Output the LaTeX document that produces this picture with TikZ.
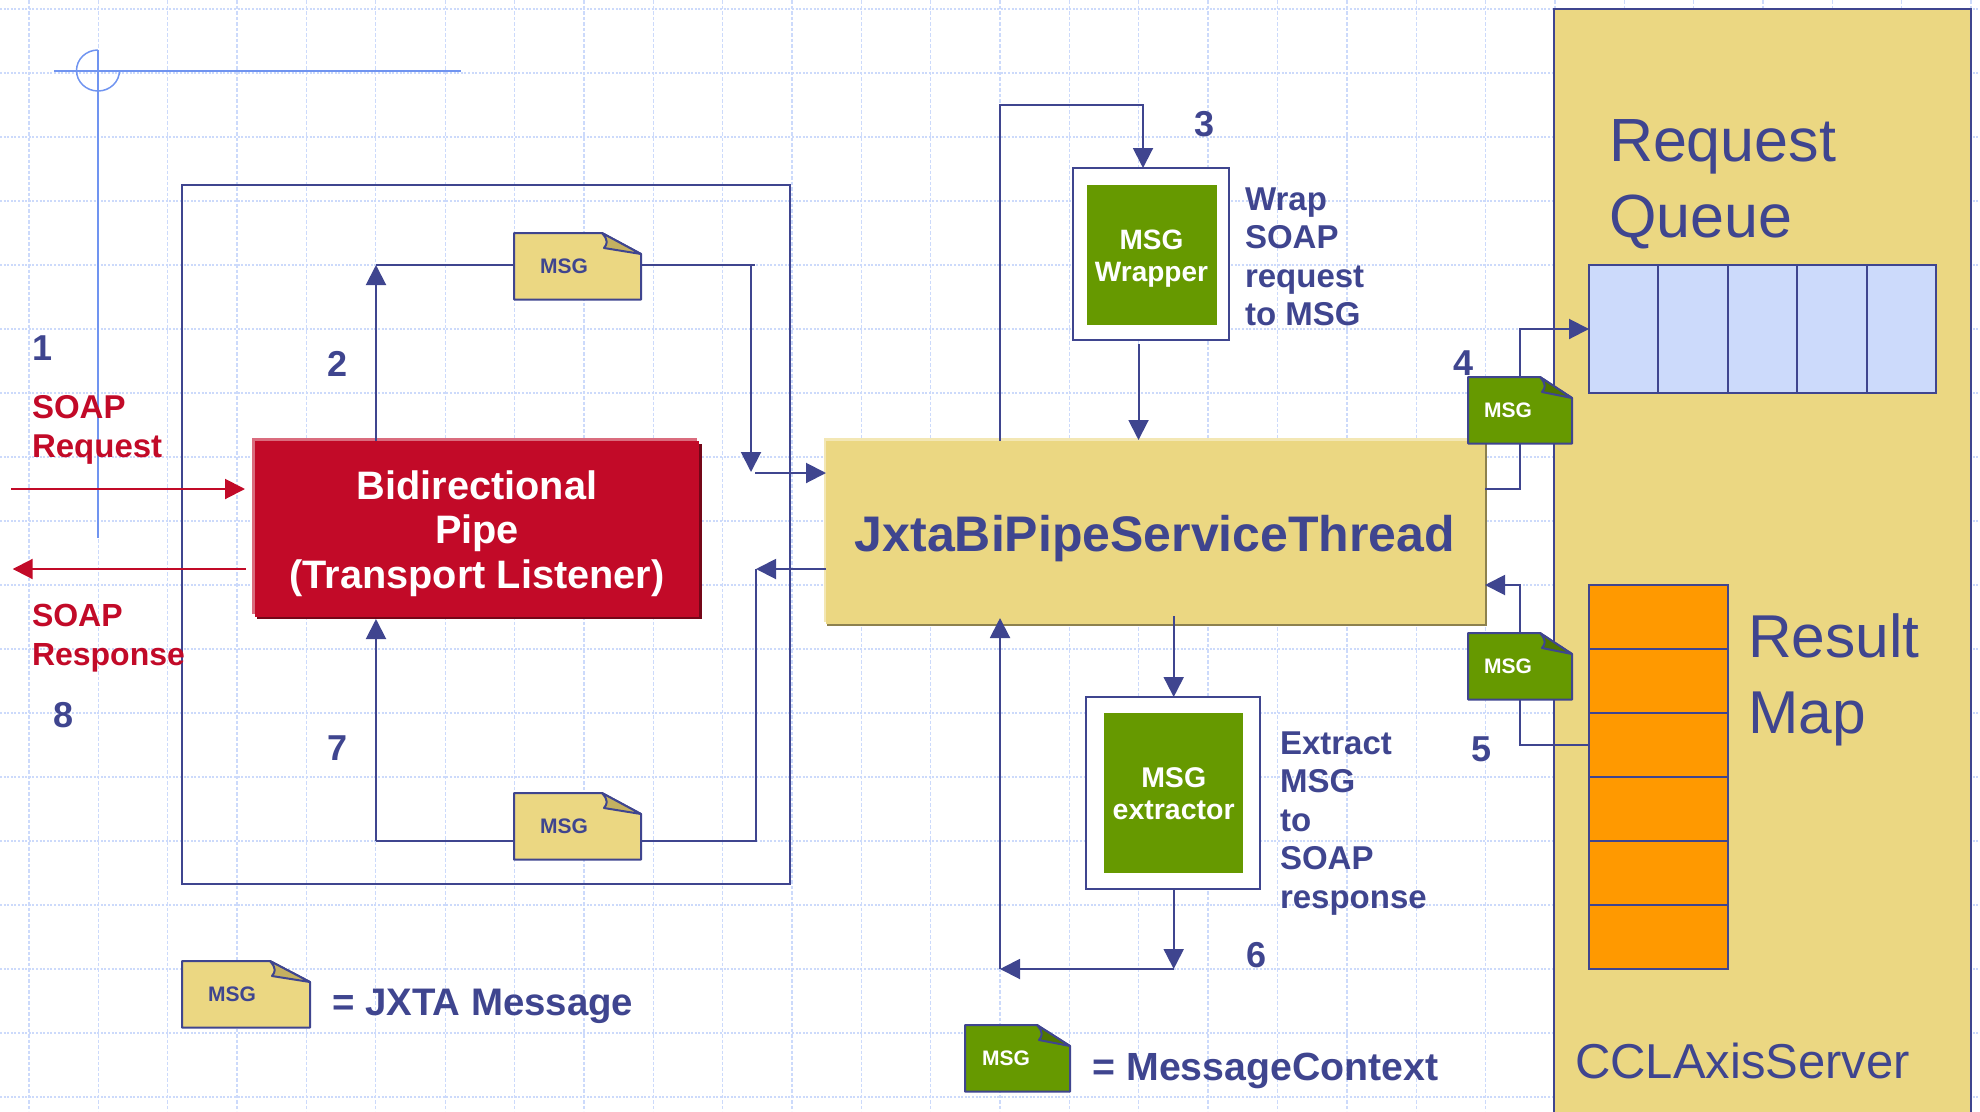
\documentclass[tikz,border=0pt]{standalone}
\usepackage{fontspec}
\setmainfont{Liberation Sans}
\usetikzlibrary{positioning,arrows.meta}
\definecolor{msgblue}{HTML}{3F458F}
\definecolor{gridblue}{HTML}{CCDAFB}
\definecolor{guideblue}{HTML}{7094F0}
\definecolor{noteyellow}{HTML}{EBD782}
\definecolor{foldyellow}{HTML}{C4B060}
\definecolor{textyellow}{HTML}{3F458F}
\definecolor{notegreen}{HTML}{669900}
\definecolor{foldgreen}{HTML}{4F7500}
\definecolor{textgreen}{HTML}{FFFFFF}
\definecolor{soapred}{HTML}{C20A28}
\definecolor{maporange}{HTML}{FF9900}
\tikzset{
  txt/.style 2 args={inner sep=0pt, outer sep=0pt, font=\fontsize{#1}{#2}\selectfont\bfseries},
  plain txt/.style 2 args={inner sep=0pt, outer sep=0pt, font=\fontsize{#1}{#2}\selectfont},
  solid box/.style={rectangle, inner sep=0pt, outer sep=0pt, anchor=north west},
  cell/.style={draw=msgblue, line width=2pt},
  flow/.style={draw=msgblue, line width=2pt},
  note line/.style={draw=msgblue, line width=2pt, line join=round},
  soap flow/.style={draw=soapred, line width=2pt}
}
\begin{document}
\begin{tikzpicture}[x=1pt, y=-1pt, >={Triangle[length=20pt,width=20pt]}]
\useasboundingbox (0,0) rectangle (1980,1111);

% grid
\foreach \y in {0,...,17}
  \draw [gridblue, line width=2pt, dash pattern=on 2pt off 1.6pt] (0,9+64*\y) -- (1980,9+64*\y);
\foreach \x in {0,...,28}
  \draw [gridblue, line width=1.3pt, dash pattern=on 3.5pt off 2pt] (29+69.36*\x,0) -- (29+69.36*\x,1111);

% guides
\draw [guideblue, line width=2.5pt] (54,71) -- (461,71);
\draw [guideblue, line width=1.5pt] (98,50) -- (98,538);
\draw [guideblue, line width=1.5pt] (98,50) arc [start angle=90, end angle=360, x radius=21.5pt, y radius=20.5pt];

% outer frame
\node [solid box, draw=msgblue, line width=2.5pt, minimum width=608pt, minimum height=699pt] (frame) at (182,185) {};

% server
\node [solid box, fill=noteyellow, draw=msgblue, line width=2pt, minimum width=417pt, minimum height=1120pt] (server) at (1554,9) {};

\foreach \i in {1,...,5}
  \node [solid box, cell, fill=gridblue, minimum width=69.4pt, minimum height=128pt] (queue-\i) at (1589+69.4*\i-69.4,265) {};
\foreach \i in {1,...,6}
  \node [solid box, cell, fill=maporange, minimum width=139pt, minimum height=64pt] (map-\i) at (1589,585+64*\i-64) {};

\node [plain txt={61}{76}, anchor=base west, align=left, text=msgblue] (queue-title) at (1609,237.5) {Request\\Queue};
\node [plain txt={60.5}{76}, anchor=base west, align=left, text=msgblue] (map-title) at (1748,733.5) {Result\\Map};
\node [plain txt={49}{49}, anchor=base west, text=msgblue] (server-title) at (1575,1078) {CCLAxisServer};

% pipe
\fill [soapred!60!white] (252,438) rectangle (697,614);
\fill [soapred!60!black] (257,444) rectangle (702,619);
\node [solid box, fill=soapred, minimum width=444pt, minimum height=176pt] (pipe) at (255,441) {};
\node [txt={39.7}{44.5}, anchor=base, align=center, text=white] (pipe-title) at (477,588) {Bidirectional\\Pipe\\(Transport Listener)};

% service thread
\fill [noteyellow!60!white] (824,438) rectangle (1482,622);
\fill [noteyellow!60!black] (827,444) rectangle (1487,626);
\node [solid box, fill=noteyellow, minimum width=659pt, minimum height=183pt] (thread) at (826,441) {};
\node [txt={50}{50}, anchor=base, text=msgblue] (thread-title) at (1155,551) {JxtaBiPipeServiceThread};

% wrapper and extractor
\node [solid box, draw=msgblue, fill=white, line width=2pt, minimum width=156pt, minimum height=172pt] (wrapper-out) at (1073,168) {};
\node [solid box, fill=notegreen, minimum width=130pt, minimum height=140pt] (wrapper) at (1087,185) {};
\node [txt={28}{32}, anchor=base, align=center, text=white] (wrapper-title) at (1151.5,281) {MSG\\Wrapper};
\node [txt={33}{38.3}, anchor=base west, align=left, text=msgblue] (wrapper-note) at (1245,325.5) {Wrap\\SOAP\\request\\to MSG};

\node [solid box, draw=msgblue, fill=white, line width=2pt, minimum width=174pt, minimum height=192pt] (extractor-out) at (1086,697) {};
\node [solid box, fill=notegreen, minimum width=139pt, minimum height=160pt] (extractor) at (1104,713) {};
\node [txt={28.5}{32}, anchor=base, align=center, text=white] (extractor-title) at (1173.7,819) {MSG\\extractor};
\node [txt={33}{38.5}, anchor=base west, align=left, text=msgblue] (extractor-note) at (1280,908) {Extract\\MSG\\to\\SOAP\\response};

% notes
\foreach \n/\xx/\yy/\ww/\ff/\oo/\col in {top/514/233/127/88/50/yellow, bottom/514/793/127/88/50/yellow, legend/182/961/128/88/50/yellow, four/1468/377/104/72/40/green, five/1468/633/104/72/40/green, context/965/1025/105/72/41/green}
{
  \node [solid box, minimum width=\ww pt, minimum height=66.5pt] (msg-\n) at (\xx,\yy) {};
  \draw [note line, fill=note\col] (msg-\n.north west) -- ++(\ff,0) -- ([yshift=-21pt]msg-\n.north east) -- (msg-\n.south east) -- (msg-\n.south west) -- cycle;
  \draw [note line, fill=fold\col] ([xshift=\ff pt]msg-\n.north west) .. controls +(7,8) and +(3,-4) .. ++(2,15) -- ([yshift=-21pt]msg-\n.north east) -- cycle;
  \node [txt={21}{21}, text=text\col] (msg-\n-text) at ([xshift=\oo pt, yshift=-33pt]msg-\n.north west) {MSG};
}

\node [txt={38.4}{38}, anchor=base west, text=msgblue] (legend-jxta) at (332,1015.5) {= JXTA Message};
\node [txt={39.3}{39}, anchor=base west, text=msgblue] (legend-context) at (1092.5,1080.5) {= MessageContext};

% soap
\node [txt={33}{39}, anchor=base west, align=left, text=soapred] (soap-request) at (32,457.5) {SOAP\\Request};
\node [txt={32}{39}, anchor=base west, align=left, text=soapred] (soap-response) at (32,665) {SOAP\\Response};

\foreach \l/\xx/\yy in {1/43/360, 2/338/376, 3/1204/136, 4/1463/375, 5/1481/761, 6/1256/967, 7/338/760, 8/64/727}
  \node [txt={36}{36}, anchor=base, text=msgblue] (num-\l) at (\xx,\yy) {\l};

% links
\coordinate (soap-in) at (11,489);
\coordinate (soap-out) at (12.7,569);
\draw [soap flow, ->, shorten >=10pt] (soap-in) -- (soap-in -| pipe.west);
\draw [soap flow, ->, shorten <=9pt] (soap-out -| pipe.west) -- (soap-out);

\coordinate (turn-2) at (376,265);
\coordinate (in-1) at (751,472);
\coordinate (in-2) at (755,473);
\draw [flow, ->] (turn-2 |- pipe.north) -- (turn-2);
\draw [flow] (turn-2) -- (turn-2 -| msg-top.west);
\draw [flow] (turn-2 -| msg-top.east) -- (turn-2 -| in-2);
\draw [flow, ->] (in-1 |- turn-2) -- (in-1);
\draw [flow, ->] (in-2) -- (in-2 -| thread.west);

\coordinate (out-1) at (756,569);
\coordinate (turn-7) at (376,841);
\coordinate (pipe-in) at (376,619);
\draw [flow, ->] (out-1 -| thread.west) -- (out-1);
\draw [flow] (out-1) |- (turn-7 -| msg-bottom.east);
\draw [flow] (turn-7 -| msg-bottom.west) -- (turn-7);
\draw [flow, ->] (turn-7) -- (pipe-in);

\coordinate (loop-1) at (1000,105);
\coordinate (loop-2) at (1143,105);
\draw [flow, ->] (loop-1 |- thread.north) -- (loop-1) -- (loop-2) -- (loop-2 |- wrapper-out.north);
\coordinate (wrap-out) at (1138.5,344);
\coordinate (wrap-in) at (1138.5,440);
\draw [flow, ->] (wrap-out) -- (wrap-in);

\coordinate (thread-out) at (1173.7,616);
\coordinate (back-1) at (1173.7,969);
\coordinate (back-2) at (1000,969);
\coordinate (thread-in) at (1000,618);
\draw [flow, ->] (thread-out) -- (thread-out |- extractor-out.north);
\draw [flow, ->] (extractor-out.south -| back-1) -- (back-1);
\draw [flow, ->] (back-1) -- (back-2);
\draw [flow, ->] (back-2) -- (thread-in);

\coordinate (up-1) at (1520,489);
\coordinate (up-2) at (1520,329);
\draw [flow] (thread.east |- up-1) -- (up-1) -- (up-1 |- msg-four.south);
\draw [flow, ->] (up-2 |- msg-four.north) -- (up-2) -- (up-2 -| queue-1.west);

\coordinate (down-1) at (1520,745);
\coordinate (down-2) at (1520,585);
\draw [flow] (map-3.west |- down-1) -- (down-1) -- (down-1 |- msg-five.south);
\draw [flow, ->] (down-2 |- msg-five.north) -- (down-2) -- (down-2 -| thread.east);

\end{tikzpicture}
\end{document}
